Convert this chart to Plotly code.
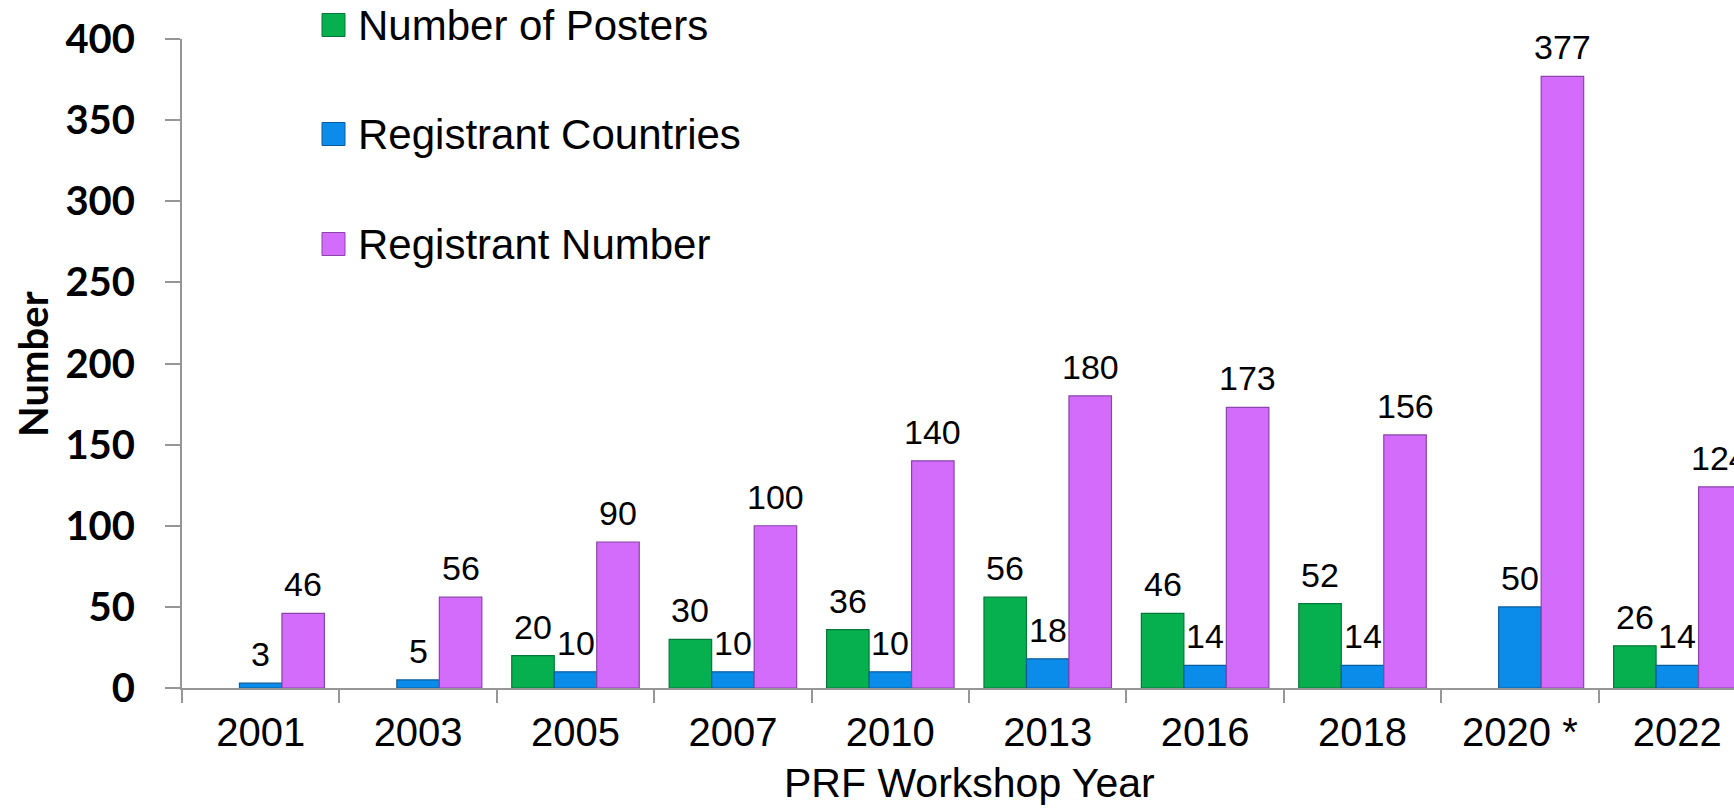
import plotly.graph_objects as go

# Workshop editions and their statistics
years = ["2001", "2003", "2005", "2007", "2010", "2013", "2016", "2018", "2020 *", "2022"]
posters = [None, None, 20, 30, 36, 56, 46, 52, None, 26]
countries = [3, 5, 10, 10, 10, 18, 14, 14, 50, 14]
registrants = [46, 56, 90, 100, 140, 180, 173, 156, 377, 124]

series_names = ["Number of Posters", "Registrant Countries", "Registrant Number"]
series_values = [posters, countries, registrants]
face_colors = ["#07B04F", "#0B8CEA", "#D36BFB"]
edge_colors = ["#04783A", "#075C9C", "#8A44AA"]

AXIS_GREY = "#969696"
BAR_GAP = 0.19
bar_w = (1 - BAR_GAP) / len(series_names)

fig = go.Figure()
annotations = []

for k, (name, vals, fc, ec) in enumerate(zip(series_names, series_values, face_colors, edge_colors)):
    fig.add_trace(go.Bar(
        x=years, y=vals, name=name,
        marker=dict(color=fc, line=dict(color=ec, width=1.2)),
        showlegend=False,
    ))
    offset = (k - (len(series_names) - 1) / 2) * bar_w
    for i, v in enumerate(vals):
        if v is None:
            continue
        annotations.append(dict(
            x=i + offset, y=v, xref="x", yref="y",
            text=str(v), showarrow=False,
            yanchor="middle", yshift=29,
            font=dict(family="Liberation Sans, Arial", size=34, color="black"),
        ))

# Legend drawn as swatches with labels stacked at the upper left
shapes = []
row_offsets = [14, -95, -205]
for k, (name, fc, ec) in enumerate(zip(series_names, face_colors, edge_colors)):
    yc = row_offsets[k]
    shapes.append(dict(
        type="rect", xref="paper", yref="paper",
        xsizemode="pixel", ysizemode="pixel",
        xanchor=0, yanchor=1,
        x0=140, x1=163, y0=yc - 11.5, y1=yc + 11.5,
        fillcolor=fc, line=dict(color=ec, width=1),
    ))
    annotations.append(dict(
        x=0, y=1, xref="paper", yref="paper",
        xshift=174, yshift=yc,
        xanchor="left", yanchor="middle",
        text=name, showarrow=False,
        font=dict(family="Liberation Sans, Arial", size=42, color="black"),
    ))

# Axis titles
annotations.append(dict(
    x=4.5, y=-0.147, xref="x", yref="paper",
    text="PRF Workshop Year", showarrow=False,
    xanchor="center", yanchor="middle",
    font=dict(family="Liberation Sans, Arial", size=41, color="black"),
))
annotations.append(dict(
    x=-0.0964, y=0.5, xref="paper", yref="paper",
    text="<b>Number</b>", textangle=-90, showarrow=False,
    xanchor="center", yanchor="middle",
    font=dict(family="Lato, Liberation Sans, Arial", size=40, color="black"),
))

fig.update_layout(
    width=1734, height=808,
    margin=dict(l=182, r=0, t=39, b=120),
    paper_bgcolor="white", plot_bgcolor="white",
    barmode="group", bargap=BAR_GAP, bargroupgap=0,
    shapes=shapes, annotations=annotations,
)

fig.update_xaxes(
    type="category", range=[-0.5, 9.36],
    tickson="boundaries", ticks="outside", ticklen=13, tickwidth=2, tickcolor=AXIS_GREY,
    showline=True, linecolor=AXIS_GREY, linewidth=2,
    showgrid=False, zeroline=False, tickangle=0,
    tickfont=dict(family="Liberation Sans, Arial", size=40, color="black"),
    ticklabelstandoff=8,
)
fig.update_yaxes(
    range=[0, 400], dtick=50,
    ticks="outside", ticklen=15, tickwidth=2, tickcolor=AXIS_GREY,
    showline=True, linecolor=AXIS_GREY, linewidth=2,
    showgrid=False, zeroline=False,
    tickfont=dict(family="Lato, Liberation Sans, Arial", size=40, color="black", weight="bold"),
    ticklabelstandoff=22,
)

fig.write_html("out.html")
